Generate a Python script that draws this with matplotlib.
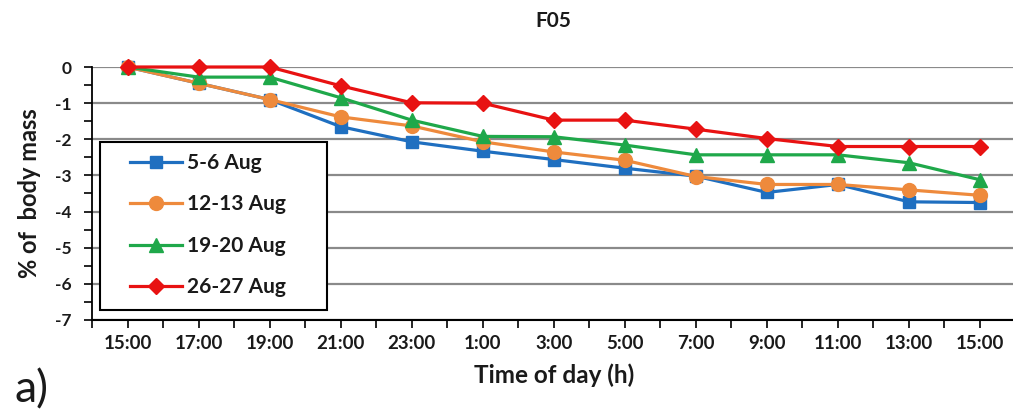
import matplotlib
matplotlib.use("Agg")
import matplotlib.pyplot as plt
from matplotlib.patches import Rectangle
from matplotlib.ticker import MultipleLocator, FixedLocator

plt.rcParams['font.family'] = ['Lato', 'DejaVu Sans']

times = ["15:00", "17:00", "19:00", "21:00", "23:00", "1:00", "3:00",
         "5:00", "7:00", "9:00", "11:00", "13:00", "15:00"]
aug_05_06 = [0, -0.45, -0.9, -1.65, -2.07, -2.33, -2.56, -2.8, -3.02, -3.47, -3.25, -3.73, -3.75]
aug_12_13 = [0, -0.45, -0.9, -1.38, -1.63, -2.07, -2.35, -2.58, -3.03, -3.25, -3.25, -3.4, -3.55]
aug_19_20 = [0, -0.28, -0.28, -0.85, -1.47, -1.92, -1.93, -2.16, -2.43, -2.43, -2.43, -2.65, -3.12]
aug_26_27 = [0, 0, 0, -0.52, -0.99, -1.0, -1.47, -1.47, -1.72, -1.98, -2.2, -2.2, -2.2]

series = [
    ("5-6 Aug", aug_05_06, "#1f6fc0", "s", 9),
    ("12-13 Aug", aug_12_13, "#ee8a3c", "o", 10),
    ("19-20 Aug", aug_19_20, "#1fa84a", "^", 10),
    ("26-27 Aug", aug_26_27, "#e81212", "D", 8.5),
]

W, H = 1013, 411
fig = plt.figure(figsize=(W / 100, H / 100), dpi=100)
ax_l, ax_r, ax_t, ax_b = 92, 1015.5, 67, 320
ax = fig.add_axes([ax_l / W, 1 - ax_b / H, (ax_r - ax_l) / W, (ax_b - ax_t) / H])

x = list(range(len(times)))
for label, vals, color, marker, ms in series:
    ax.plot(x, vals, color=color, marker=marker, markersize=ms, linewidth=2.3,
            label=label, clip_on=False)

ax.set_xlim(-0.5, len(times) - 0.5)
ax.set_ylim(-7, 0)
ax.xaxis.set_major_locator(FixedLocator(x))
ax.set_xticklabels(times)
ax.xaxis.set_minor_locator(FixedLocator([i - 0.5 for i in range(len(times) + 1)]))
ax.yaxis.set_major_locator(MultipleLocator(1))
ax.yaxis.set_minor_locator(MultipleLocator(0.5))
ax.set_yticklabels([str(int(v)) for v in ax.get_yticks()])

ax.tick_params(axis='x', which='both', direction='out', length=6, width=1.2,
               labelsize=13.5, pad=5, colors='black')
ax.tick_params(axis='y', which='both', direction='out', length=6, width=1.2,
               labelsize=12.5, pad=9)
for lab in ax.get_xticklabels() + ax.get_yticklabels():
    lab.set_fontweight('bold')
    lab.set_color('#1a1a1a')

ax.grid(axis='y', which='major', color='#8a8a8a', linewidth=1.6)
ax.set_axisbelow(True)
for s in ['top', 'right']:
    ax.spines[s].set_visible(False)
ax.spines['left'].set_linewidth(1.3)
ax.spines['bottom'].set_linewidth(1.5)

ax.set_title("F05", fontsize=15, fontweight='bold', pad=29, color='#1a1a1a')
ax.set_xlabel("Time of day (h)", fontsize=17.5, fontweight='bold', labelpad=8,
              color='#1a1a1a')
ax.set_ylabel("% of  body mass", fontsize=17, fontweight='bold', labelpad=10,
              color='#1a1a1a')

# legend frame (drawn as a rectangle in axes coordinates)
def ax_x(px):
    return (px - ax_l) / (ax_r - ax_l)

def ax_y(py):
    return (ax_b - py) / (ax_b - ax_t)

rect = Rectangle((ax_x(100), ax_y(310)), ax_x(327) - ax_x(100), ax_y(142) - ax_y(310),
                 transform=ax.transAxes, facecolor='white', edgecolor='black',
                 linewidth=1.5, zorder=4)
ax.add_patch(rect)

leg = ax.legend(loc='upper left', bbox_to_anchor=(ax_x(130), ax_y(153)), borderaxespad=0,
                frameon=False, fontsize=15, handlelength=2.5, labelspacing=1.03,
                borderpad=0, handletextpad=0.25)
leg.set_zorder(5)
for t in leg.get_texts():
    t.set_fontweight('bold')
    t.set_color('#1a1a1a')

fig.text(15 / W, 9 / H, "a)", fontsize=32, ha='left', va='baseline', color='#1a1a1a')

fig.savefig("out.png", dpi=100)
